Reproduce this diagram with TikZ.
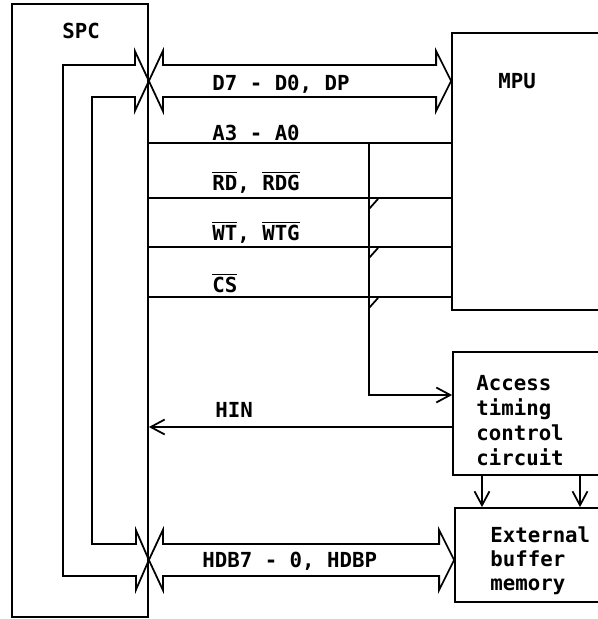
\documentclass[tikz,border=0pt]{standalone}
\usepackage{fontspec}
\setmonofont{DejaVu Sans Mono}
\usetikzlibrary{arrows.meta,fit,calc}
\newcommand{\ovl}[1]{$\overline{\mbox{#1}}$}

\begin{document}
\begin{tikzpicture}[
    x=0.02cm, y=-0.02cm,
    >={Straight Barb[length=2.8mm,width=3mm]},
    wire/.style={draw=black, line width=1pt},
    blk/.style={draw=black, line width=1pt, inner sep=0pt},
    txt/.style={font=\fontsize{11.8}{14}\selectfont\ttfamily\bfseries, inner sep=0pt, anchor=base west},
  ]
  \useasboundingbox (0,0) rectangle (598,619);
  \clip (0,0) rectangle (598,619);

  %% the blocks (the right ones run off the page)
  \node[blk, fit={(12,4) (148,617)}] (spc) {};
  \node[blk, fit={(452,33) (640,310)}] (mpu) {};
  \node[blk, fit={(453,352) (640,475)}] (acc) {};
  \node[blk, fit={(455,508) (640,602)}] (ebm) {};

  \coordinate (dtip) at (spc.east |- 0,81);
  \coordinate (dend) at (mpu.west |- 0,81);
  \coordinate (htip) at (spc.east |- 0,560);
  \coordinate (hend) at (ebm.west |- 0,560);

  %% data bus D7 - D0 to the MPU
  \draw[wire] (dtip) -- ++(14,-30) -- ++(0,14) -- ($(dend)+(-15,-16)$) -- ++(0,-14) -- (dend)
    -- ++(-15,30) -- ++(0,-14) -- ($(dtip)+(14,16)$) -- ++(0,14) -- cycle;
  % inside the SPC both buses are one
  \draw[wire] (dtip) -- ++(-14,-30) -- ++(0,14) -- (63,65) -- (63,576) -- ($(htip)+(-13,16)$)
    -- ++(0,14) -- (htip) -- ++(-13,-30) -- ++(0,14) -- (92,544) -- (92,97)
    -- ($(dtip)+(-14,16)$) -- ++(0,14) -- cycle;
  %% host data bus to the buffer memory
  \draw[wire] (htip) -- ++(14,-30) -- ++(0,14) -- ($(hend)+(-15,-16)$) -- ++(0,-14) -- (hend)
    -- ++(-15,30) -- ++(0,-14) -- ($(htip)+(14,16)$) -- ++(0,14) -- cycle;

  %% control lines
  \foreach \y in {143,198,247,297} { \draw[wire] (spc.east |- 0,\y) -- (mpu.west |- 0,\y); }
  \coordinate (tap) at (369,143);
  \draw[wire, ->] (tap) -- (369,395) -- (acc.west |- 0,395);
  \foreach \y in {198,247,297} { \draw[wire] (369,{\y+11}) -- (378,{\y+1}); }
  \draw[wire, ->] (acc.west |- 0,427) -- (spc.east |- 0,427);
  \foreach \x in {482,580} { \draw[wire, ->] (acc.south -| \x,0) -- (ebm.north -| \x,0); }

  %% labels
  \node[txt] (spclbl) at (62,38) {SPC};
  \node[txt] (mpulbl) at (498,88) {MPU};
  \node[txt] (dlbl) at (212,90) {D7 - D0, DP};
  \node[txt] (albl) at (212,140) {A3 - A0};
  \node[txt] (rdlbl) at (212,190) {\ovl{RD}, \ovl{RDG}};
  \node[txt] (wtlbl) at (212,240) {\ovl{WT}, \ovl{WTG}};
  \node[txt] (cslbl) at (212,292) {\ovl{CS}};
  \node[txt] (hinlbl) at (215,417) {HIN};
  \node[txt] (hdblbl) at (202,567) {HDB7 - 0, HDBP};
  \foreach \t [count=\i] in {Access,timing,control,circuit} {
    \node[txt] (acc\i) at (476,{390+25*(\i-1)}) {\t};
  }
  \foreach \t [count=\i] in {External,buffer,memory} {
    \node[txt] (ebm\i) at (490,{542+24*(\i-1)}) {\t};
  }

\end{tikzpicture}
\end{document}
